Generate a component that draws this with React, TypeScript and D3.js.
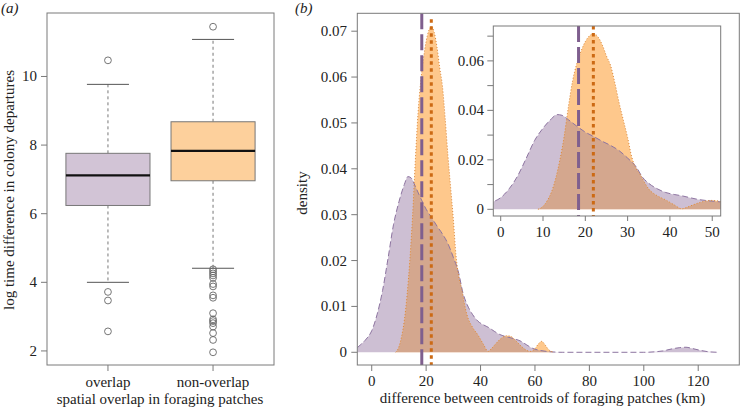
import React from 'react';
import * as d3 from 'd3';

// ---------- Panel (a) data ----------
const boxCategories = ['overlap', 'non-overlap'];
const boxQ1 = [6.24, 6.96];
const boxMedian = [7.12, 7.83];
const boxQ3 = [7.76, 8.68];
const whiskerLow = [4.0, 4.41];
const whiskerHigh = [9.77, 11.08];
const outliersOverlap = [10.47, 3.72, 3.47, 2.57];
const outliersNonOverlap = [11.45, 4.38, 4.32, 4.26, 4.2, 4.13, 3.95, 3.88, 3.62, 3.55, 3.1, 2.92, 2.87, 2.81, 2.71, 2.52, 2.32, 1.96];
const boxYTicks = [2, 4, 6, 8, 10];
const boxFills = ['#d2c4d6', '#fdd09c'];

// ---------- Panel (b) data ----------
const overlapX = [-5.3, -4, -2, 0, 2, 4, 6, 8, 10, 12, 13.3, 14.5, 16, 18, 20, 22, 24, 26, 28, 30, 32, 33.5, 35, 37, 39, 41, 43, 45, 47, 49.5, 52, 54.5, 57, 59, 62, 66, 70, 100, 104, 107, 110, 113, 115.5, 118, 121, 124, 127.4];
const overlapDensity = [0.001, 0.0017, 0.0029, 0.0047, 0.0083, 0.0135, 0.0205, 0.0278, 0.0328, 0.0366, 0.0383, 0.038, 0.0362, 0.0336, 0.0312, 0.0294, 0.0275, 0.0258, 0.0237, 0.0207, 0.0172, 0.013, 0.0105, 0.0083, 0.0068, 0.006, 0.0054, 0.0046, 0.0039, 0.0034, 0.003, 0.0025, 0.0016, 0.0009, 0.0004, 0.0001, 0, 0, 0.0001, 0.0003, 0.0007, 0.001, 0.0011, 0.0008, 0.0004, 0.0001, 0];

const nonOverlapX = [8.8, 10, 11, 12, 13, 14, 15, 16, 17, 18, 19, 20, 21, 22, 23, 24, 25, 26, 27, 28, 29, 30, 31, 32, 33, 34, 35, 37, 39, 41, 42.8, 44, 45.5, 47.5, 49.5, 51, 53, 55, 57, 58.5, 60, 61.5, 62.5, 63.5, 65, 67];
const nonOverlapDensity = [0, 0.0012, 0.0035, 0.007, 0.0125, 0.02, 0.0295, 0.0415, 0.052, 0.059, 0.064, 0.0678, 0.0702, 0.071, 0.0697, 0.0665, 0.062, 0.058, 0.051, 0.043, 0.036, 0.029, 0.021, 0.0165, 0.014, 0.0108, 0.0082, 0.0055, 0.0038, 0.0018, 0.0002, 0.0008, 0.0018, 0.003, 0.0036, 0.0035, 0.0025, 0.0013, 0.0004, 0.0002, 0.0008, 0.002, 0.0024, 0.0018, 0.0006, 0];

const meanOverlap = 18.4;
const meanNonOverlap = 21.9;

const mainXTicks = [0, 20, 40, 60, 80, 100, 120];
const mainYTicks = [0, 0.01, 0.02, 0.03, 0.04, 0.05, 0.06, 0.07];
const insetXTicks = [0, 10, 20, 30, 40, 50];
const insetYTicks = [0, 0.01, 0.02, 0.03, 0.04, 0.05, 0.06, 0.07];
const insetYLabels = [0, 0.02, 0.04, 0.06];

const FONT = "'Liberation Serif', 'Times New Roman', serif";
const AXIS = '#7a7a7a';
const TEXT = '#222';
const PURPLE_FILL = '#cdbfd3';
const ORANGE_FILL = '#fec88c';
const BOTH_FILL = '#d4a78e';
const PURPLE_LINE = '#7f5f8e';
const ORANGE_LINE = '#cc6a14';

type Pt = [number, number];
const overlapPts: Pt[] = overlapX.map((x, i) => [x, overlapDensity[i]]);
const nonOverlapPts: Pt[] = nonOverlapX.map((x, i) => [x, nonOverlapDensity[i]]);

function DensityPanel({ x, y, id, meanTop }: { x: d3.ScaleLinear<number, number>; y: d3.ScaleLinear<number, number>; id: string; meanTop: number }) {
  const area = d3.area<Pt>().x(d => x(d[0])).y0(y(0)).y1(d => y(d[1])).curve(d3.curveMonotoneX);
  const line = d3.line<Pt>().x(d => x(d[0])).y(d => y(d[1])).curve(d3.curveMonotoneX);
  const [x0, x1] = x.range();
  const [yb, yt] = y.range();
  const pArea = area(overlapPts) || '';
  const oArea = area(nonOverlapPts) || '';
  return (
    <g>
      <defs>
        <clipPath id={`${id}-box`}>
          <rect x={x0} y={yt} width={x1 - x0} height={yb - yt} />
        </clipPath>
        <clipPath id={`${id}-purple`}>
          <path d={pArea} />
        </clipPath>
      </defs>
      <g clipPath={`url(#${id}-box)`}>
        <path d={pArea} fill={PURPLE_FILL} />
        <path d={oArea} fill={ORANGE_FILL} />
        <g clipPath={`url(#${id}-purple)`}>
          <path d={oArea} fill={BOTH_FILL} />
        </g>
        <path d={line(overlapPts) || ''} fill="none" stroke="#8d74a0" strokeWidth={1} strokeDasharray="6,3" />
        <path d={line(nonOverlapPts) || ''} fill="none" stroke="#d9873a" strokeWidth={1} strokeDasharray="1,2" />
        <line x1={x(meanOverlap)} x2={x(meanOverlap)} y1={yt} y2={yb} stroke={PURPLE_LINE} strokeWidth={3} strokeDasharray="16,5" />
        <line x1={x(meanNonOverlap)} x2={x(meanNonOverlap)} y1={yt + meanTop} y2={yb} stroke={ORANGE_LINE} strokeWidth={3} strokeDasharray="3.5,3.5" />
      </g>
    </g>
  );
}

export default function App() {
  // ---- panel (a) ----
  const aLeft = 47, aRight = 274, aTop = 13, aBottom = 365;
  const ax = d3.scaleLinear().domain([0.42, 2.58]).range([aLeft, aRight]);
  const ay = d3.scaleLinear().domain([1.59, 11.85]).range([aBottom, aTop]);
  const outliers = [outliersOverlap, outliersNonOverlap];

  // ---- panel (b) ----
  const bLeft = 357.3, bRight = 739.3, bTop = 13.3, bBottom = 365;
  const bx = d3.scaleLinear().domain([-5.3, 135.1]).range([bLeft, bRight]);
  const by = d3.scaleLinear().domain([-0.00277, 0.0739]).range([bBottom, bTop]);

  const iLeft = 493.3, iRight = 720.7, iTop = 26, iBottom = 216;
  const ix = d3.scaleLinear().domain([-1.75, 52.0]).range([iLeft, iRight]);
  const iy = d3.scaleLinear().domain([-0.0027, 0.0741]).range([iBottom, iTop]);

  return (
    <svg width={741} height={408} style={{ display: 'block', position: 'absolute', left: 0, top: 0 }} fontFamily={FONT}>
      <rect width={741} height={408} fill="#fff" />
      {/* ===== Panel (a) ===== */}
      <text x={1} y={13} fontSize={15} fontStyle="italic" fill={TEXT}>(a)</text>
      {boxCategories.map((c, i) => {
        const cx = ax(i + 1);
        const hw = ax(1.4) - ax(1);
        const cw = ax(1.2) - ax(1);
        return (
          <g key={c}>
            <line x1={cx} x2={cx} y1={ay(boxQ3[i])} y2={ay(whiskerHigh[i])} stroke="#777" strokeDasharray="3,3" />
            <line x1={cx} x2={cx} y1={ay(boxQ1[i])} y2={ay(whiskerLow[i])} stroke="#777" strokeDasharray="3,3" />
            <line x1={cx - cw} x2={cx + cw} y1={ay(whiskerHigh[i])} y2={ay(whiskerHigh[i])} stroke="#555" />
            <line x1={cx - cw} x2={cx + cw} y1={ay(whiskerLow[i])} y2={ay(whiskerLow[i])} stroke="#555" />
            <rect x={cx - hw} width={2 * hw} y={ay(boxQ3[i])} height={ay(boxQ1[i]) - ay(boxQ3[i])} fill={boxFills[i]} stroke="#777" />
            <line x1={cx - hw} x2={cx + hw} y1={ay(boxMedian[i])} y2={ay(boxMedian[i])} stroke="#111" strokeWidth={2.2} />
            {outliers[i].map((v, j) => (
              <circle key={j} cx={cx} cy={ay(v)} r={3.4} fill="none" stroke="#666" strokeWidth={0.9} />
            ))}
            <line x1={cx} x2={cx} y1={aBottom} y2={aBottom + 6} stroke={AXIS} />
            <text x={cx} y={387} fontSize={15} textAnchor="middle" fill={TEXT}>{c}</text>
          </g>
        );
      })}
      <rect x={aLeft} y={aTop} width={aRight - aLeft} height={aBottom - aTop} fill="none" stroke={AXIS} />
      {boxYTicks.map(t => (
        <g key={t}>
          <line x1={aLeft - 6} x2={aLeft} y1={ay(t)} y2={ay(t)} stroke={AXIS} />
          <text x={37} y={ay(t) + 5} fontSize={15} textAnchor="end" fill={TEXT}>{t}</text>
        </g>
      ))}
      <text transform={`translate(14,190) rotate(-90)`} fontSize={15} textAnchor="middle" fill={TEXT}>log time difference in colony departures</text>
      <text x={160} y={404} fontSize={15} textAnchor="middle" fill={TEXT}>spatial overlap in foraging patches</text>

      {/* ===== Panel (b) ===== */}
      <text x={295} y={13} fontSize={15} fontStyle="italic" fill={TEXT}>(b)</text>
      <DensityPanel x={bx} y={by} id="main" meanTop={6} />
      <rect x={bLeft} y={bTop} width={bRight - bLeft} height={bBottom - bTop} fill="none" stroke={AXIS} />
      {mainYTicks.map(t => (
        <g key={t}>
          <line x1={bLeft - 6} x2={bLeft} y1={by(t)} y2={by(t)} stroke={AXIS} />
          <text x={347} y={by(t) + 5} fontSize={15} textAnchor="end" fill={TEXT}>{String(t)}</text>
        </g>
      ))}
      {mainXTicks.map(t => (
        <g key={t}>
          <line x1={bx(t)} x2={bx(t)} y1={bBottom} y2={bBottom + 6} stroke={AXIS} />
          <text x={bx(t)} y={386} fontSize={15} textAnchor="middle" fill={TEXT}>{t}</text>
        </g>
      ))}
      <text transform={`translate(307,193) rotate(-90)`} fontSize={15} textAnchor="middle" fill={TEXT}>density</text>
      <text x={542.5} y={403} fontSize={15} textAnchor="middle" fill={TEXT}>difference between centroids of foraging patches (km)</text>

      {/* inset */}
      <rect x={iLeft} y={iTop} width={iRight - iLeft} height={iBottom - iTop} fill="#fff" />
      <DensityPanel x={ix} y={iy} id="inset" meanTop={0} />
      <rect x={iLeft} y={iTop} width={iRight - iLeft} height={iBottom - iTop} fill="none" stroke={AXIS} />
      {insetYTicks.map(t => (
        <line key={t} x1={iLeft - 6} x2={iLeft} y1={iy(t)} y2={iy(t)} stroke={AXIS} />
      ))}
      {insetYLabels.map(t => (
        <text key={t} x={484} y={iy(t) + 5} fontSize={15} textAnchor="end" fill={TEXT}>{String(t)}</text>
      ))}
      {insetXTicks.map(t => (
        <g key={t}>
          <line x1={ix(t)} x2={ix(t)} y1={iBottom} y2={iBottom + 5} stroke={AXIS} />
          <text x={ix(t)} y={237} fontSize={15} textAnchor="middle" fill={TEXT}>{t}</text>
        </g>
      ))}
    </svg>
  );
}
